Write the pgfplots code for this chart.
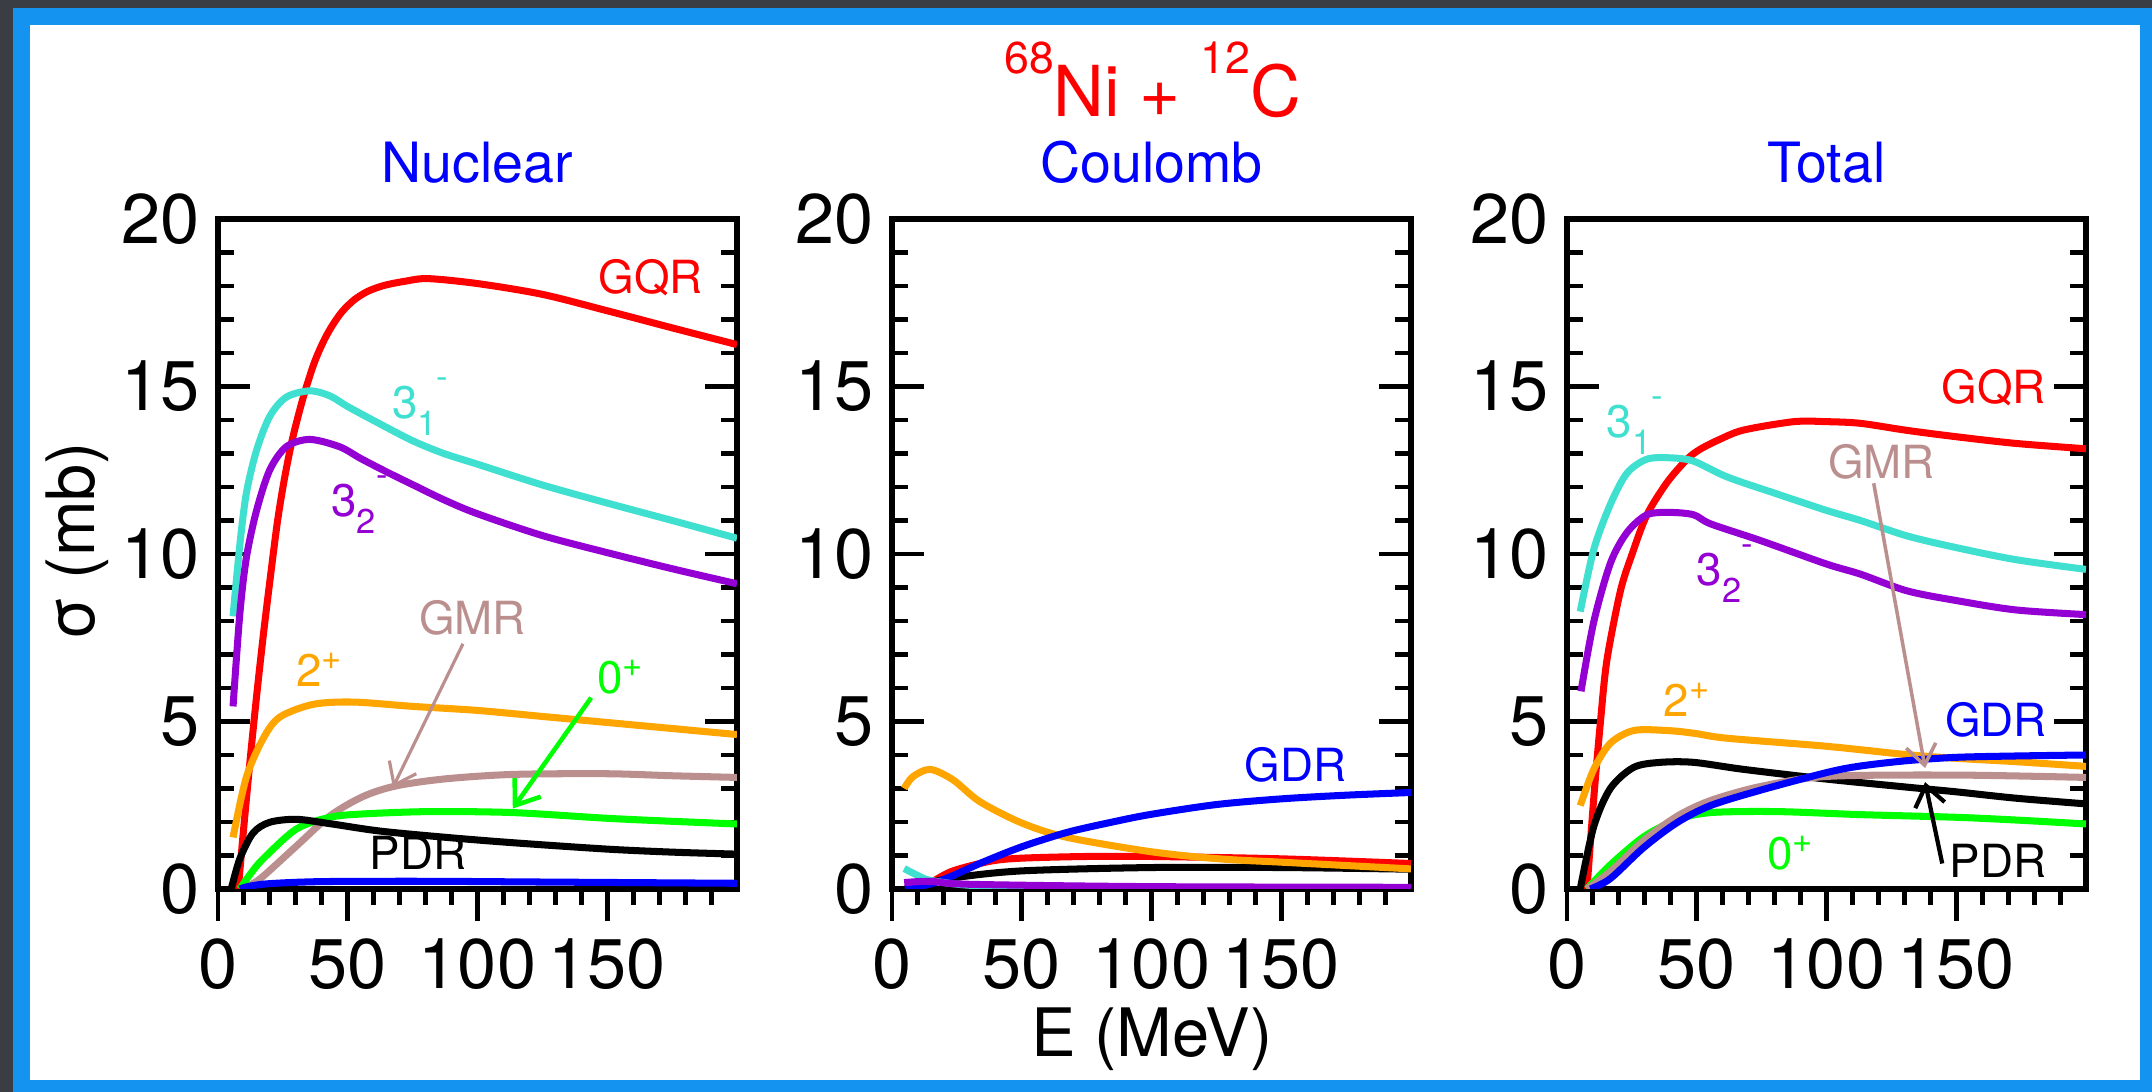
\documentclass[border=0pt]{standalone}
\usepackage{fontspec}
\setmainfont{TeX Gyre Heros}
\usepackage{pgfplots}
\pgfplotsset{compat=1.18}
\usetikzlibrary{arrows.meta}
\definecolor{bgdark}{RGB}{58,61,68}
\definecolor{frameblue}{RGB}{20,148,240}
\definecolor{cturq}{RGB}{64,224,208}
\definecolor{cviolet}{RGB}{148,0,211}
\definecolor{corange}{RGB}{255,165,0}
\definecolor{cgmr}{RGB}{188,143,143}
\definecolor{cgreen}{RGB}{0,255,0}
\newcommand{\annfont}{\fontsize{13}{15}\selectfont}
\newcommand{\smf}{\fontsize{9.8}{11}\selectfont}
\newcommand{\levm}[2]{#1\raisebox{-0.17cm}{\smf #2}\raisebox{0.30cm}{\smf -}}
\newcommand{\levp}[1]{#1\raisebox{0.17cm}{\smf +}}
\tikzset{ann/.style={font=\annfont, inner sep=0pt}}
\pgfplotsset{
  /pgf/number format/assume math mode=true,
  panel/.style={
    scale only axis, width=5.19cm, height=6.70cm,
    anchor=south west,
    xmin=0, xmax=200, ymin=0, ymax=20,
    xtick={0,50,100,150},
    minor xtick={10,20,...,190},
    ytick={0,5,10,15,20},
    minor y tick num=4,
    xtick pos=left, ytick pos=both,
    tick align=inside,
    major tick length=0.32cm, minor tick length=0.16cm,
    tick style={black, line width=1.4pt},
    major x tick style={yshift=-0.32cm},
    minor x tick style={yshift=-0.16cm},
    axis line style={line width=1.6pt},
    tick label style={font=\fontsize{20}{24}\selectfont},
    xticklabel style={inner sep=0pt, yshift=-0.49cm},
    yticklabel style={inner sep=0pt, xshift=-0.18cm},
  },
  cv/.style={line width=2.0pt, smooth, line join=round},
}
\begin{document}
\begin{tikzpicture}
\useasboundingbox (0,0) rectangle (21.52,10.92);
\fill[bgdark] (0,0) rectangle (21.52,10.92);
\fill[frameblue] (0.13,0) rectangle (21.52,10.84);
\fill[white] (0.30,0.12) rectangle (21.40,10.67);

% ---------------- Nuclear ----------------
\begin{axis}[panel, at={(2.18cm,2.03cm)}]
\addplot[cv, red] coordinates {(7.8,0) (10,1.9) (12.5,3.95) (15,5.85) (17.5,7.6) (20,9.2) (22.9,10.96) (25.5,12.2) (28.3,13.3) (31,14.15) (33.7,14.9) (37.3,15.75) (41,16.4) (44.3,16.85) (48,17.25) (52.7,17.6) (58,17.85) (64.2,18.02) (72,18.14) (80.9,18.22) (100.2,18.07) (125,17.75) (150,17.26) (175,16.75) (200,16.25)};
\addplot[cv, corange] coordinates {(5.8,1.54) (10.9,3.33) (17.4,4.49) (23.8,5.13) (36.6,5.51) (52.1,5.58) (75.2,5.45) (100,5.33) (125,5.15) (150,4.97) (175,4.79) (200,4.61)};
\addplot[cv, cgmr] coordinates {(8.4,0) (12.5,0.12) (17.4,0.38) (30.2,1.28) (43.1,2.18) (55.9,2.76) (68.8,3.08) (88,3.29) (113.8,3.42) (150,3.44) (175,3.38) (200,3.33)};
\addplot[cv, cgreen] coordinates {(8.4,0) (12.5,0.45) (17.4,0.9) (30.2,1.79) (43.1,2.14) (55.9,2.24) (81.6,2.31) (113.8,2.28) (150,2.11) (175,2.02) (200,1.94)};
\addplot[cv, black] coordinates {(5.1,0) (8.4,0.9) (13.5,1.67) (19.9,1.99) (30.2,2.08) (43.1,1.95) (62.3,1.73) (88,1.54) (113.8,1.38) (150,1.19) (175,1.1) (200,1.04)};
\addplot[cv, cturq] coordinates {(5.8,8.14) (8.4,10.26) (10.9,11.8) (14.8,13.08) (19.9,14.1) (26.3,14.68) (35.3,14.87) (43.1,14.72) (50,14.4) (62,13.9) (75,13.38) (87,13.0) (100,12.68) (125,12.06) (150,11.52) (175,11.0) (200,10.47)};
\addplot[cv, cviolet] coordinates {(5.8,5.45) (8.4,8.2) (10.9,9.87) (14.8,11.28) (19.9,12.5) (26.3,13.2) (35.3,13.42) (46.9,13.2) (55,12.85) (65,12.45) (75,12.07) (87,11.62) (100,11.2) (125,10.55) (150,10.04) (175,9.56) (200,9.11)};
\addplot[cv, blue] coordinates {(8.4,0) (12,0.08) (20,0.16) (40,0.22) (80,0.23) (120,0.21) (160,0.19) (200,0.17)};
\node[ann, text=red] at (axis cs:166.7,18.26) {GQR};
\node[ann, text=cturq, anchor=base west] at (axis cs:66.8,14.05) {\levm{3}{1}};
\node[ann, text=cviolet, anchor=base west] at (axis cs:43.5,11.13) {\levm{3}{2}};
\node[ann, text=cgmr] at (axis cs:98.1,8.09) {GMR};
\node[ann, text=corange, anchor=base west] at (axis cs:30,6.05) {\levp{2}};
\node[ann, text=cgreen, anchor=base west] at (axis cs:146,5.83) {\levp{0}};
\node[ann, text=black] at (axis cs:77,1.09) {PDR};
\draw[cgmr, line width=0.9pt, -{Straight Barb[length=0.2cm, width=0.3cm]}] (axis cs:94.4,7.32) -- (axis cs:67.4,3.03);
\draw[cgreen, line width=1.3pt, -{Straight Barb[length=0.22cm, width=0.32cm]}] (axis cs:143.8,5.71) -- (axis cs:113.6,2.4);
\end{axis}
\node[font=\fontsize{15.8}{18}\selectfont, text=blue, anchor=base] at (4.775,9.09) {Nuclear};

% ---------------- Coulomb ----------------
\begin{axis}[panel, at={(8.92cm,2.03cm)}]
\addplot[cv, red] coordinates {(8.8,0) (15,0.2) (23.5,0.54) (38,0.83) (50,0.92) (75,0.97) (100,0.97) (150,0.9) (200,0.76)};
\addplot[cv, black] coordinates {(10,0.1) (23.5,0.33) (50,0.54) (100,0.64) (150,0.64) (200,0.59)};
\addplot[cv, corange] coordinates {(4.7,3.0) (8,3.35) (14.7,3.57) (23.5,3.26) (33.8,2.61) (50,1.97) (67.5,1.54) (100,1.11) (126,0.9) (150,0.8) (175,0.7) (200,0.6)};
\addplot[cv, blue] coordinates {(5,0.02) (15,0.15) (23.5,0.4) (35,0.8) (50,1.26) (67.5,1.69) (85,2.0) (100,2.23) (125,2.52) (150,2.69) (175,2.8) (200,2.88)};
\addplot[cv, cturq] coordinates {(4.7,0.61) (10,0.4) (14.7,0.26) (30,0.11) (60,0.05) (100,0.03) (200,0.02)};
\addplot[cv, cviolet] coordinates {(4.7,0.19) (14.7,0.23) (30,0.14) (100,0.07) (200,0.05)};
\node[ann, text=blue] at (axis cs:155.4,3.71) {GDR};
\end{axis}
\node[font=\fontsize{15.8}{18}\selectfont, text=blue, anchor=base] at (11.515,9.09) {Coulomb};

% ---------------- Total ----------------
\begin{axis}[panel, at={(15.67cm,2.03cm)}]
\addplot[cv, red] coordinates {(7.7,0) (10.3,2.7) (12.9,5.0) (15.4,6.84) (20.6,8.9) (25.1,10.0) (30.8,11.17) (38.6,12.14) (46.3,12.83) (51.4,13.13) (59.1,13.43) (68.1,13.7) (87.4,13.95) (100,13.95) (113.1,13.9) (131,13.69) (150,13.5) (173,13.3) (200,13.14)};
\addplot[cv, cturq] coordinates {(5.1,8.28) (10.3,10.13) (16.7,11.48) (23.1,12.41) (30.8,12.83) (39.8,12.87) (48.8,12.77) (61.7,12.3) (81,11.79) (100,11.3) (113.1,11.0) (131,10.54) (150,10.19) (173,9.83) (200,9.54)};
\addplot[cv, cviolet] coordinates {(5.4,5.9) (10.3,7.97) (16.7,9.72) (23.1,10.64) (30.8,11.17) (39.8,11.24) (48.8,11.17) (55.3,10.9) (74.6,10.4) (100,9.7) (113,9.4) (131,8.9) (150,8.61) (173,8.33) (200,8.19)};
\addplot[cv, corange] coordinates {(5.1,2.49) (10.3,3.57) (16.7,4.35) (25.7,4.73) (38.6,4.73) (48.8,4.65) (61.7,4.5) (100,4.26) (131,4.01) (150,3.9) (173,3.8) (200,3.66)};
\addplot[cv, black] coordinates {(5.1,0) (10.3,1.86) (16.7,3.0) (25.7,3.63) (36,3.78) (48.8,3.78) (68.1,3.57) (100,3.28) (131,3.04) (150,2.9) (173,2.71) (200,2.54)};
\addplot[cv, cgreen] coordinates {(7.7,0) (16.7,0.72) (29.6,1.56) (42.4,2.07) (55.3,2.28) (81,2.31) (113,2.22) (150,2.14) (175,2.05) (200,1.94)};
\addplot[cv, cgmr] coordinates {(7.7,0) (16.7,0.52) (29.6,1.45) (42.4,2.17) (55.3,2.64) (74.6,3.06) (100.3,3.36) (150,3.4) (200,3.33)};
\addplot[cv, blue] coordinates {(9.0,0) (16.7,0.31) (29.6,1.24) (42.4,1.98) (55.3,2.49) (74.6,2.95) (100.3,3.48) (113,3.67) (131,3.83) (150,3.93) (173,3.97) (200,4.0)};
\node[ann, text=red] at (axis cs:164.5,14.97) {GQR};
\node[ann, text=cturq, anchor=base west] at (axis cs:15,13.48) {\levm{3}{1}};
\node[ann, text=cgmr] at (axis cs:121.2,12.76) {GMR};
\node[ann, text=cviolet, anchor=base west] at (axis cs:49.8,9.05) {\levm{3}{2}};
\node[ann, text=corange, anchor=base west] at (axis cs:37,5.14) {\levp{2}};
\node[ann, text=blue] at (axis cs:165.3,5.04) {GDR};
\node[ann, text=cgreen, anchor=base west] at (axis cs:77,0.57) {\levp{0}};
\node[ann, text=black] at (axis cs:166.1,0.83) {PDR};
\draw[cgmr, line width=1.0pt, -{Straight Barb[length=0.2cm, width=0.3cm]}] (axis cs:118.2,12.11) -- (axis cs:138,3.61);
\draw[black, line width=1.2pt, -{Straight Barb[length=0.2cm, width=0.3cm]}] (axis cs:144.6,0.76) -- (axis cs:138,3.19);
\end{axis}
\node[font=\fontsize{15.8}{18}\selectfont, text=blue, anchor=base] at (18.265,9.09) {Total};

% ---------------- global labels ----------------
\node[font=\fontsize{20}{24}\selectfont, text=red, anchor=base] at (11.525,9.75)
  {\raisebox{12.4pt}{\fontsize{12.7}{14}\selectfont 68}Ni + \raisebox{12.4pt}{\fontsize{12.7}{14}\selectfont 12}C};
\node[font=\fontsize{19}{22}\selectfont, anchor=base] at (11.52,0.353) {E (MeV)};
\node[font=\fontsize{19}{22}\selectfont, anchor=base, rotate=90] at (0.95,5.505) {σ (mb)};
\end{tikzpicture}
\end{document}
